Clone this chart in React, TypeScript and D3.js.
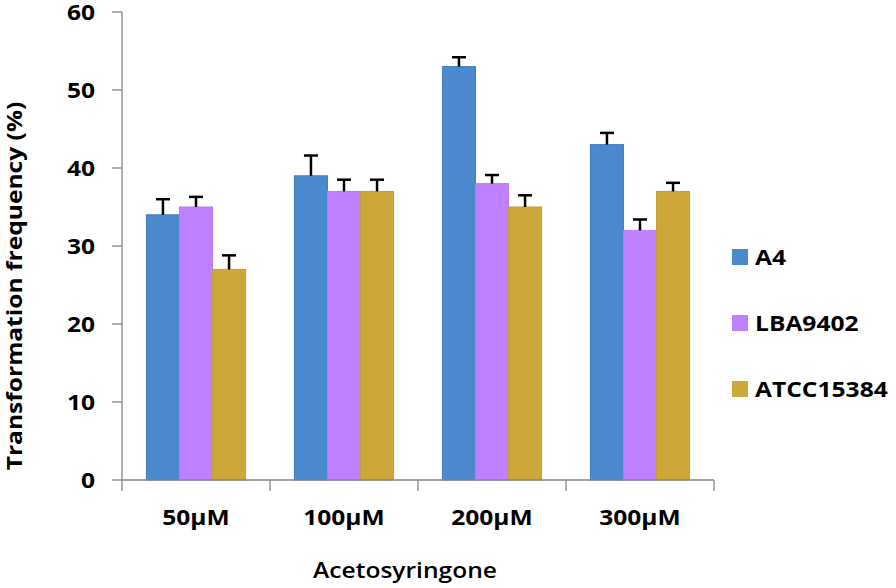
import React, { useEffect, useRef } from 'react';
import * as d3 from 'd3';

const categories = ['50μM', '100μM', '200μM', '300μM'];
const seriesNames = ['A4', 'LBA9402', 'ATCC15384'];
const a4Values = [34, 39, 53, 43];
const lbaValues = [35, 37, 38, 32];
const atccValues = [27, 37, 35, 37];
const a4Errors = [2, 2.6, 1.2, 1.5];
const lbaErrors = [1.3, 1.5, 1.1, 1.4];
const atccErrors = [1.8, 1.5, 1.5, 1.1];
const yTicks = [0, 10, 20, 30, 40, 50, 60];

const colors = ['#4A89CE', '#BF80FF', '#CCA83A'];
const strokes = ['#3F7EC4', '#B877FA', '#C29F32'];

const App = () => {
    const svgRef = useRef<SVGSVGElement>(null);

    useEffect(() => {
        const svg = d3.select(svgRef.current);
        svg.selectAll('*').remove();

        const width = 896;
        const height = 588;
        const left = 122, right = 714, top = 12, bottom = 480;
        const font = '"Open Sans", Lato, sans-serif';
        const axisColor = '#868686';
        const stretch = 1.17; // the reference's text is drawn a bit wide

        svg.attr('width', width).attr('height', height);

        const values = [a4Values, lbaValues, atccValues];
        const errors = [a4Errors, lbaErrors, atccErrors];

        const x = d3.scaleBand().domain(categories).range([left, right])
            .paddingInner(0.33).paddingOuter(0.165);
        const xInner = d3.scaleBand().domain(seriesNames).range([0, x.bandwidth()]);
        const y = d3.scaleLinear().domain([0, 60]).range([bottom, top]);

        // Bars
        seriesNames.forEach((name, s) => {
            categories.forEach((cat, i) => {
                const bx = (x(cat) as number) + (xInner(name) as number);
                svg.append('rect')
                    .attr('x', bx)
                    .attr('y', y(values[s][i]))
                    .attr('width', xInner.bandwidth())
                    .attr('height', y(0) - y(values[s][i]))
                    .attr('fill', colors[s])
                    .attr('stroke', strokes[s])
                    .attr('stroke-width', 1);
            });
        });

        // Error bars (upper only)
        seriesNames.forEach((name, s) => {
            categories.forEach((cat, i) => {
                const cx = (x(cat) as number) + (xInner(name) as number) + xInner.bandwidth() / 2;
                const y0 = y(values[s][i]);
                const y1 = y(values[s][i] + errors[s][i]);
                svg.append('line')
                    .attr('x1', cx).attr('x2', cx)
                    .attr('y1', y0).attr('y2', y1)
                    .attr('stroke', '#000').attr('stroke-width', 2.5);
                svg.append('line')
                    .attr('x1', cx - 7).attr('x2', cx + 7)
                    .attr('y1', y1).attr('y2', y1)
                    .attr('stroke', '#000').attr('stroke-width', 2.5);
            });
        });

        // Y axis
        svg.append('line')
            .attr('x1', left).attr('x2', left)
            .attr('y1', top).attr('y2', bottom)
            .attr('stroke', axisColor).attr('stroke-width', 1.3);
        yTicks.forEach(t => {
            svg.append('line')
                .attr('x1', left - 10).attr('x2', left)
                .attr('y1', y(t)).attr('y2', y(t))
                .attr('stroke', axisColor).attr('stroke-width', 1.3);
            svg.append('text')
                .attr('class', 'wide')
                .attr('x', 95)
                .attr('y', y(t) + 7.5)
                .attr('text-anchor', 'end')
                .style('font-family', font)
                .style('font-size', '21px')
                .style('font-weight', 700)
                .attr('fill', '#000')
                .text(t);
        });

        // X axis
        svg.append('line')
            .attr('x1', left).attr('x2', right)
            .attr('y1', bottom).attr('y2', bottom)
            .attr('stroke', axisColor).attr('stroke-width', 1.3);
        const boundaries = categories.map(c => (x(c) as number) - (x.step() - x.bandwidth()) / 2);
        boundaries.push(right);
        boundaries.forEach(b => {
            svg.append('line')
                .attr('x1', b).attr('x2', b)
                .attr('y1', bottom).attr('y2', bottom + 11)
                .attr('stroke', axisColor).attr('stroke-width', 1.3);
        });
        categories.forEach(c => {
            svg.append('text')
                .attr('class', 'wide')
                .attr('x', (x(c) as number) + x.bandwidth() / 2)
                .attr('y', 525)
                .attr('text-anchor', 'middle')
                .style('font-family', font)
                .style('font-size', '21px')
                .style('font-weight', 700)
                .attr('fill', '#000')
                .text(c);
        });

        // Axis titles
        svg.append('text')
            .attr('class', 'wide')
            .attr('x', 405)
            .attr('y', 578)
            .attr('text-anchor', 'middle')
            .style('font-family', font)
            .style('font-size', '21px')
            .style('font-weight', 600)
            .attr('fill', '#000')
            .text('Acetosyringone');

        svg.append('text')
            .attr('class', 'wide')
            .attr('transform', 'translate(22, 286) rotate(-90)')
            .attr('text-anchor', 'middle')
            .style('font-family', font)
            .style('font-size', '21px')
            .style('font-weight', 700)
            .attr('fill', '#000')
            .text('Transformation frequency (%)');

        // Legend
        seriesNames.forEach((name, s) => {
            const ly = 257 + s * 66;
            svg.append('rect')
                .attr('x', 732).attr('y', ly - 8)
                .attr('width', 16).attr('height', 16)
                .attr('fill', colors[s]);
            svg.append('text')
                .attr('class', 'wide')
                .attr('x', 755)
                .attr('y', ly + 8)
                .style('font-family', font)
                .style('font-size', '21px')
                .style('font-weight', 700)
                .attr('fill', '#000')
                .text(name);
        });

        // Widen the texts to match the reference's proportions
        svg.selectAll<SVGTextElement, unknown>('text.wide').each(function () {
            const len = this.getComputedTextLength();
            d3.select(this)
                .attr('textLength', len * stretch)
                .attr('lengthAdjust', 'spacingAndGlyphs');
        });
    }, []);

    return (
        <div style={{ position: 'absolute', left: 0, top: 0 }}>
            <svg ref={svgRef} style={{ display: 'block', background: '#fff' }}></svg>
        </div>
    );
};

export default App;
